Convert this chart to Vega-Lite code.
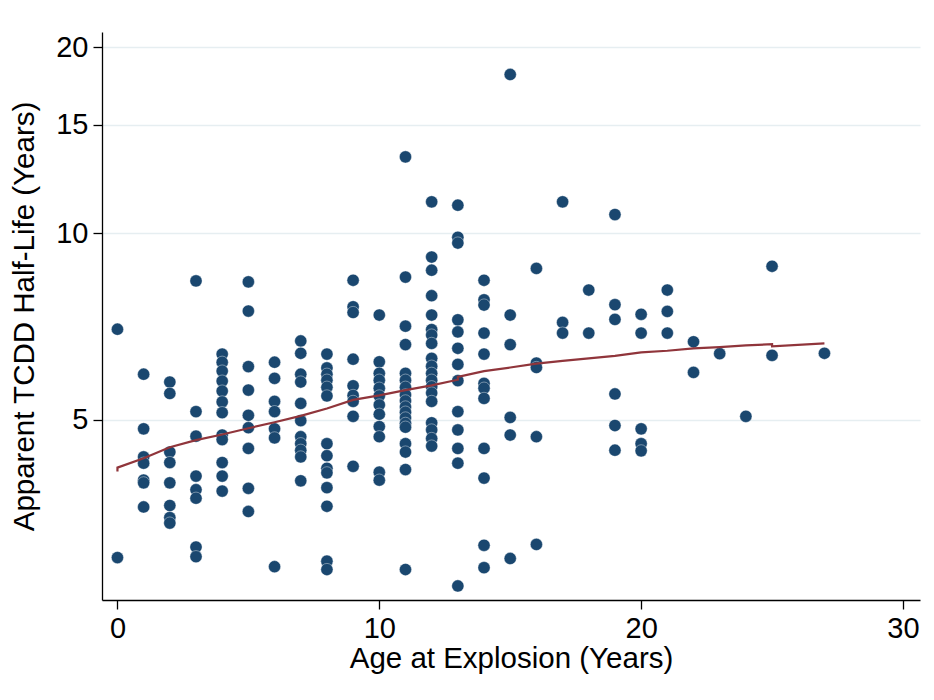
{
  "$schema": "https://vega.github.io/schema/vega-lite/v6.json",
  "width": 818,
  "height": 568,
  "autosize": {"type": "none"},
  "padding": {"left": 102, "top": 32, "right": 14, "bottom": 100},
  "background": "white",
  "config": {
    "view": {"stroke": null},
    "font": "Liberation Sans",
    "axis": {
      "labelFont": "Liberation Sans",
      "titleFont": "Liberation Sans",
      "labelFontSize": 29,
      "titleFontSize": 29.5,
      "titleFontWeight": "normal",
      "labelColor": "#000000",
      "titleColor": "#000000",
      "domainColor": "#000000",
      "domainWidth": 1.3,
      "tickColor": "#000000",
      "tickWidth": 1.3,
      "tickSize": 9
    }
  },
  "datasets": {
    "obs": [
      {"age":0,"halflife":7.00},{"age":0,"halflife":2.99},
      {"age":1,"halflife":5.92},{"age":1,"halflife":4.83},{"age":1,"halflife":4.35},{"age":1,"halflife":4.25},{"age":1,"halflife":3.99},{"age":1,"halflife":3.95},{"age":1,"halflife":3.61},
      {"age":2,"halflife":5.75},{"age":2,"halflife":5.51},{"age":2,"halflife":4.43},{"age":2,"halflife":4.26},{"age":2,"halflife":3.95},{"age":2,"halflife":3.63},{"age":2,"halflife":3.47},{"age":2,"halflife":3.40},
      {"age":3,"halflife":8.38},{"age":3,"halflife":5.15},{"age":3,"halflife":4.70},{"age":3,"halflife":4.05},{"age":3,"halflife":3.85},{"age":3,"halflife":3.73},{"age":3,"halflife":3.11},{"age":3,"halflife":3.00},
      {"age":4,"halflife":6.38},{"age":4,"halflife":6.19},{"age":4,"halflife":5.99},{"age":4,"halflife":5.77},{"age":4,"halflife":5.56},{"age":4,"halflife":5.34},{"age":4,"halflife":5.13},{"age":4,"halflife":4.72},{"age":4,"halflife":4.64},{"age":4,"halflife":4.26},{"age":4,"halflife":4.05},{"age":4,"halflife":3.83},
      {"age":5,"halflife":8.35},{"age":5,"halflife":7.49},{"age":5,"halflife":6.09},{"age":5,"halflife":5.58},{"age":5,"halflife":5.08},{"age":5,"halflife":4.85},{"age":5,"halflife":4.49},{"age":5,"halflife":3.87},{"age":5,"halflife":3.55},
      {"age":6,"halflife":6.19},{"age":6,"halflife":5.83},{"age":6,"halflife":5.35},{"age":6,"halflife":5.15},{"age":6,"halflife":4.83},{"age":6,"halflife":4.67},{"age":6,"halflife":2.89},
      {"age":7,"halflife":6.70},{"age":7,"halflife":6.40},{"age":7,"halflife":5.92},{"age":7,"halflife":5.75},{"age":7,"halflife":5.31},{"age":7,"halflife":4.98},{"age":7,"halflife":4.69},{"age":7,"halflife":4.57},{"age":7,"halflife":4.46},{"age":7,"halflife":4.35},{"age":7,"halflife":3.98},
      {"age":8,"halflife":6.38},{"age":8,"halflife":6.06},{"age":8,"halflife":5.92},{"age":8,"halflife":5.79},{"age":8,"halflife":5.64},{"age":8,"halflife":5.46},{"age":8,"halflife":4.57},{"age":8,"halflife":4.37},{"age":8,"halflife":4.17},{"age":8,"halflife":4.10},{"age":8,"halflife":3.88},{"age":8,"halflife":3.62},{"age":8,"halflife":2.95},{"age":8,"halflife":2.86},
      {"age":9,"halflife":8.40},{"age":9,"halflife":7.61},{"age":9,"halflife":7.45},{"age":9,"halflife":6.26},{"age":9,"halflife":5.67},{"age":9,"halflife":5.47},{"age":9,"halflife":5.35},{"age":9,"halflife":5.06},{"age":9,"halflife":4.20},
      {"age":10,"halflife":7.38},{"age":10,"halflife":6.20},{"age":10,"halflife":5.94},{"age":10,"halflife":5.79},{"age":10,"halflife":5.62},{"age":10,"halflife":5.46},{"age":10,"halflife":5.28},{"age":10,"halflife":5.10},{"age":10,"halflife":4.87},{"age":10,"halflife":4.69},{"age":10,"halflife":4.11},{"age":10,"halflife":3.99},
      {"age":11,"halflife":13.30},{"age":11,"halflife":8.50},{"age":11,"halflife":7.08},{"age":11,"halflife":6.61},{"age":11,"halflife":5.94},{"age":11,"halflife":5.79},{"age":11,"halflife":5.64},{"age":11,"halflife":5.48},{"age":11,"halflife":5.36},{"age":11,"halflife":5.24},{"age":11,"halflife":5.14},{"age":11,"halflife":5.03},{"age":11,"halflife":4.93},{"age":11,"halflife":4.86},{"age":11,"halflife":4.57},{"age":11,"halflife":4.43},{"age":11,"halflife":4.15},{"age":11,"halflife":2.86},
      {"age":12,"halflife":11.25},{"age":12,"halflife":9.16},{"age":12,"halflife":8.72},{"age":12,"halflife":7.93},{"age":12,"halflife":7.38},{"age":12,"halflife":6.99},{"age":12,"halflife":6.85},{"age":12,"halflife":6.64},{"age":12,"halflife":6.28},{"age":12,"halflife":6.10},{"age":12,"halflife":5.94},{"age":12,"halflife":5.79},{"age":12,"halflife":5.65},{"age":12,"halflife":5.52},{"age":12,"halflife":5.35},{"age":12,"halflife":4.94},{"age":12,"halflife":4.81},{"age":12,"halflife":4.66},{"age":12,"halflife":4.53},
      {"age":13,"halflife":11.11},{"age":13,"halflife":9.86},{"age":13,"halflife":9.65},{"age":13,"halflife":7.25},{"age":13,"halflife":6.93},{"age":13,"halflife":6.52},{"age":13,"halflife":6.14},{"age":13,"halflife":5.78},{"age":13,"halflife":5.15},{"age":13,"halflife":4.81},{"age":13,"halflife":4.49},{"age":13,"halflife":4.25},{"age":13,"halflife":2.69},
      {"age":14,"halflife":8.40},{"age":14,"halflife":7.81},{"age":14,"halflife":7.66},{"age":14,"halflife":6.90},{"age":14,"halflife":6.38},{"age":14,"halflife":5.72},{"age":14,"halflife":5.62},{"age":14,"halflife":5.41},{"age":14,"halflife":4.49},{"age":14,"halflife":4.02},{"age":14,"halflife":3.13},{"age":14,"halflife":2.88},
      {"age":15,"halflife":18.08},{"age":15,"halflife":7.38},{"age":15,"halflife":6.61},{"age":15,"halflife":5.04},{"age":15,"halflife":4.72},{"age":15,"halflife":2.98},
      {"age":16,"halflife":8.78},{"age":16,"halflife":6.17},{"age":16,"halflife":6.07},{"age":16,"halflife":4.69},{"age":16,"halflife":3.14},
      {"age":17,"halflife":11.25},{"age":17,"halflife":7.18},{"age":17,"halflife":6.90},
      {"age":18,"halflife":8.10},{"age":18,"halflife":6.90},
      {"age":19,"halflife":10.73},{"age":19,"halflife":7.67},{"age":19,"halflife":7.26},{"age":19,"halflife":5.50},{"age":19,"halflife":4.89},{"age":19,"halflife":4.46},
      {"age":20,"halflife":7.40},{"age":20,"halflife":6.90},{"age":20,"halflife":4.83},{"age":20,"halflife":4.57},{"age":20,"halflife":4.45},
      {"age":21,"halflife":8.10},{"age":21,"halflife":7.48},{"age":21,"halflife":6.90},
      {"age":22,"halflife":6.68},{"age":22,"halflife":5.96},
      {"age":23,"halflife":6.39},
      {"age":24,"halflife":5.06},
      {"age":25,"halflife":8.85},{"age":25,"halflife":6.35},
      {"age":27,"halflife":6.40}
    ],
    "fit": [
      {"age":0,"fitted":4.12},{"age":0,"fitted":4.18},{"age":1,"fitted":4.33},{"age":2,"fitted":4.51},{"age":3,"fitted":4.63},{"age":4,"fitted":4.73},{"age":5,"fitted":4.84},{"age":6,"fitted":4.95},{"age":7,"fitted":5.07},{"age":8,"fitted":5.21},{"age":9,"fitted":5.38},{"age":10,"fitted":5.47},{"age":11,"fitted":5.58},{"age":12,"fitted":5.68},{"age":13,"fitted":5.80},{"age":13,"fitted":5.86},{"age":14,"fitted":5.99},{"age":15,"fitted":6.07},{"age":16,"fitted":6.16},{"age":17,"fitted":6.22},{"age":18,"fitted":6.28},{"age":19,"fitted":6.34},{"age":20,"fitted":6.42},{"age":21,"fitted":6.46},{"age":22,"fitted":6.52},{"age":23,"fitted":6.55},{"age":24,"fitted":6.59},{"age":25,"fitted":6.62},{"age":25,"fitted":6.57},{"age":27,"fitted":6.64}
    ]
  },
  "layer": [
    {
      "data": {"name": "obs"},
      "mark": {"type": "point", "shape": "circle", "filled": true, "size": 150, "color": "#1a476f", "opacity": 1, "stroke": "#ffffff", "strokeWidth": 0.4},
      "encoding": {
        "x": {
          "field": "age", "type": "quantitative",
          "scale": {"domain": [-0.59, 30.65], "nice": false, "zero": false},
          "axis": {"values": [0, 10, 20, 30], "grid": false, "title": "Age at Explosion (Years)", "labelPadding": 5, "titlePadding": 1, "labelFlush": false}
        },
        "y": {
          "field": "halflife", "type": "quantitative",
          "scale": {"type": "log", "domain": [2.553, 21.18], "nice": false},
          "axis": {"values": [5, 10, 15, 20], "format": "d", "grid": true, "gridColor": "#e6eef1", "gridWidth": 1.5, "title": "Apparent TCDD Half-Life (Years)", "labelPadding": 5, "titlePadding": 16, "labelFlush": false}
        }
      }
    },
    {
      "data": {"name": "fit"},
      "mark": {"type": "line", "color": "#90353b", "strokeWidth": 2.2},
      "encoding": {
        "x": {"field": "age", "type": "quantitative"},
        "y": {"field": "fitted", "type": "quantitative"}
      }
    }
  ]
}
